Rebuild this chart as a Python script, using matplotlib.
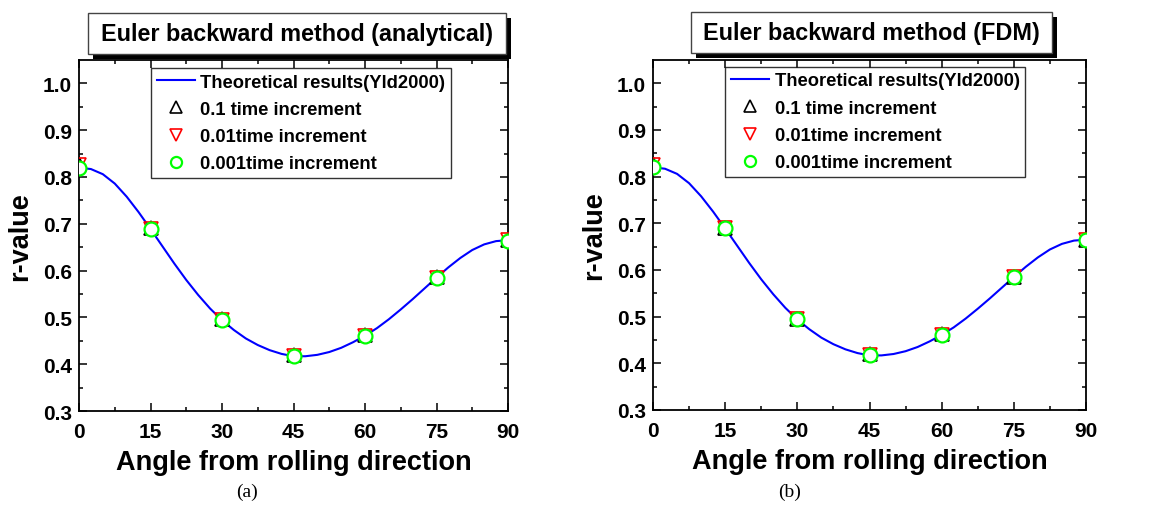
import numpy as np
import matplotlib
matplotlib.use('Agg')
import matplotlib.pyplot as plt
from matplotlib.patches import Rectangle
from matplotlib.transforms import Bbox, TransformedBbox

plt.rcParams['font.family'] = ['Liberation Sans', 'DejaVu Sans']
plt.rcParams['font.weight'] = 'bold'

# Theoretical curve (Yld2000), every 2.5 degrees
curve_angle = [0, 2.5, 5, 7.5, 10, 12.5, 15, 17.5, 20, 22.5, 25, 27.5, 30, 32.5, 35,
               37.5, 40, 42.5, 45, 47.5, 50, 52.5, 55, 57.5, 60, 62.5, 65, 67.5, 70,
               72.5, 75, 77.5, 80, 82.5, 85, 87.5, 90]
curve_r = [0.820, 0.817, 0.806, 0.786, 0.758, 0.725, 0.689, 0.652, 0.615, 0.580, 0.548,
           0.519, 0.494, 0.473, 0.455, 0.441, 0.430, 0.422, 0.417, 0.417, 0.420, 0.426,
           0.435, 0.447, 0.461, 0.477, 0.496, 0.517, 0.539, 0.562, 0.585, 0.607, 0.627,
           0.644, 0.656, 0.663, 0.665]

# simulated r-values
angles = [0, 15, 30, 45, 60, 75, 90]
r_dt01 = [0.827, 0.690, 0.496, 0.419, 0.462, 0.586, 0.665]
r_dt001 = [0.826, 0.689, 0.495, 0.418, 0.461, 0.585, 0.665]
r_dt0001 = [0.820, 0.689, 0.495, 0.418, 0.461, 0.585, 0.664]

panel_titles = ['Euler backward method (analytical)', 'Euler backward method (FDM)']
panel_tags = ['(a)', '(b)']

W, H = 1156, 510
fig = plt.figure(figsize=(W / 100, H / 100), dpi=100)

# pixel layout: axes box, title box, legend corner
axes_px = [(79, 61, 508, 412), (653, 61, 1086, 411)]
title_px = [(88, 14, 506, 55), (691, 13, 1052, 54)]
legend_px = [(151, 69), (725, 68)]
tag_x = [247, 790]


def fx(px):
    return px / W


def fy(py):
    return 1 - py / H


for i in range(2):
    x0, y0, x1, y1 = axes_px[i]
    ax = fig.add_axes([fx(x0), fy(y1), fx(x1) - fx(x0), fy(y0) - fy(y1)])

    ax.plot(curve_angle, curve_r, color='#0000ff', lw=1.5, label='Theoretical results(Yld2000)', zorder=2)
    ax.plot(angles, r_dt01, ls='none', marker='^', mfc='none', mec='black', mew=1.2, ms=10,
            label='0.1 time increment', zorder=3)
    ax.plot(angles, r_dt001, ls='none', marker='v', mfc='none', mec='red', mew=1.2, ms=10,
            label='0.01time increment', zorder=4)
    ax.plot(angles, r_dt0001, ls='none', marker='o', mfc='white', mec='#00ff00', mew=1.6, ms=10,
            label='0.001time increment', zorder=5)

    ax.set_xlim(0, 90)
    ax.set_ylim(0.3, 1.05)
    ax.set_xticks(np.arange(0, 91, 15))
    ax.set_xticks(np.arange(7.5, 90, 15), minor=True)
    ax.set_yticks(np.arange(0.3, 1.01, 0.1))
    ax.set_yticks(np.arange(0.35, 1.05, 0.1), minor=True)
    ax.set_yticklabels(['%.1f' % v for v in np.arange(0.3, 1.01, 0.1)])
    ax.tick_params(which='both', direction='in', top=True, right=True, labelsize=15, width=1.1)
    ax.tick_params(which='major', length=6)
    ax.tick_params(which='minor', length=3)
    ax.tick_params(axis='x', pad=8)
    ax.tick_params(axis='y', pad=5)
    for s in ax.spines.values():
        s.set_linewidth(1.3)

    ax.set_xlabel('Angle from rolling direction', fontsize=19.5, fontweight='bold', labelpad=6)
    ax.set_ylabel('r-value', fontsize=19.5, fontweight='bold', labelpad=7)
    # bottom of the x label is cut off in the original
    lab = ax.xaxis.label
    lab.set_clip_box(TransformedBbox(Bbox([[0, fy(477)], [1, 1]]), fig.transFigure))
    lab.set_clip_on(True)

    lx, ly = legend_px[i]
    leg = ax.legend(loc='upper left', bbox_to_anchor=((lx - x0) / (x1 - x0), (y1 - ly) / (y1 - y0)),
                    borderaxespad=0, prop={'weight': 'bold', 'size': 13.2},
                    frameon=True, fancybox=False, edgecolor='black', handlelength=2.1,
                    handletextpad=0.3, labelspacing=0.56, borderpad=0.3, markerscale=0.8)
    leg.get_frame().set_linewidth(1.0)

    # title box with drop shadow
    tx0, ty0, tx1, ty1 = title_px[i]
    fig.add_artist(Rectangle((fx(tx0 + 5), fy(ty1 + 5)), fx(tx1 - tx0), fy(ty0) - fy(ty1),
                             transform=fig.transFigure, facecolor='black', edgecolor='none', zorder=5))
    fig.add_artist(Rectangle((fx(tx0), fy(ty1)), fx(tx1 - tx0), fy(ty0) - fy(ty1),
                             transform=fig.transFigure, facecolor='white', edgecolor='#444444',
                             lw=1.0, zorder=6))
    fig.text(fx((tx0 + tx1) / 2), fy((ty0 + ty1) / 2), panel_titles[i], ha='center', va='center',
             fontsize=16.8, fontweight='bold', zorder=7)

    fig.text(fx(tag_x[i]), fy(492), panel_tags[i], ha='center', va='center',
             fontsize=14, fontweight='normal', family='Liberation Serif')

fig.savefig('out.png', dpi=100)
